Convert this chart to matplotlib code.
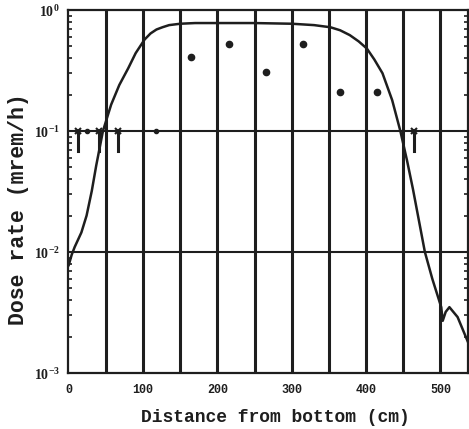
import matplotlib
matplotlib.use("Agg")
import matplotlib.pyplot as plt
from matplotlib.ticker import FixedLocator, FixedFormatter, LogLocator, NullFormatter

plt.rcParams['mathtext.fontset'] = 'custom'
plt.rcParams['mathtext.rm'] = 'Liberation Serif:bold'
plt.rcParams['mathtext.bf'] = 'Liberation Serif:bold'

# Calculated dose rate curve
curve_x = [0, 4, 8, 17, 24, 31, 37, 46, 57, 68, 80, 90, 102, 110, 118, 126, 135, 150, 170, 200,
           249, 300, 330, 352, 365, 378, 390, 401, 411, 422, 435, 446, 455, 463, 479, 489,
           501, 503, 507, 512, 523, 537]
curve_y = [0.0078, 0.0095, 0.011, 0.0145, 0.02, 0.032, 0.052, 0.1, 0.165, 0.24, 0.33, 0.44, 0.57, 0.64, 0.69, 0.72, 0.75, 0.77, 0.78, 0.78,
           0.78, 0.77, 0.75, 0.72, 0.68, 0.62, 0.55, 0.48, 0.39, 0.30, 0.18, 0.1, 0.057, 0.033, 0.01, 0.006,
           0.0035, 0.0027, 0.0032, 0.0035, 0.0029, 0.0018]

# Measured points
meas_x = [165, 215, 265, 315, 365, 415]
meas_y = [0.41, 0.52, 0.31, 0.52, 0.21, 0.21]

# Small measured points near detection level
small_x = [25, 118]
small_y = [0.1, 0.1]

# Upper-limit (x) points with downward bars
lim_x = [12, 41, 66, 465]
lim_y = [0.1, 0.1, 0.1, 0.1]
lim_low = [0.068, 0.068, 0.068, 0.068]

# Reference lines
vlines_x = [50, 100, 150, 200, 250, 300, 350, 400, 450, 500]
hlines_y = [0.1, 0.01]

xticks = [0, 100, 200, 300, 400, 500]
yticks = [1e-3, 1e-2, 1e-1, 1e0]
ytick_labels = [r'$10^{-3}$', r'$10^{-2}$', r'$10^{-1}$', r'$10^{0}$']

fig = plt.figure(figsize=(4.69, 4.29), dpi=100)
ax = fig.add_axes([68/469, 1-373/429, (468-68)/469, (373-10)/429])
ink = '#1e1e1e'

ax.set_yscale('log')
ax.set_xlim(-1, 537)
ax.set_ylim(1e-3, 1e0)

for xv in vlines_x:
    ax.axvline(xv, color=ink, lw=2.2, zorder=1)
for yv in hlines_y:
    ax.axhline(yv, color=ink, lw=1.5, zorder=1)

ax.plot(curve_x, curve_y, color=ink, lw=1.8, zorder=3, solid_joinstyle='round')
ax.plot(meas_x, meas_y, 'o', color=ink, ms=4.5, zorder=4)
ax.plot(small_x, small_y, 'o', color=ink, ms=3, zorder=4)
for xv, yv, lo in zip(lim_x, lim_y, lim_low):
    ax.plot([xv, xv], [yv, lo], color=ink, lw=2.2, zorder=4)
ax.plot(lim_x, lim_y, 'x', color=ink, ms=4, mew=1.5, zorder=4)

for s in ax.spines.values():
    s.set_color(ink)
    s.set_linewidth(1.6)

ax.xaxis.set_major_locator(FixedLocator(xticks))
ax.set_xticklabels([str(v) for v in xticks], fontfamily='Liberation Mono', fontweight='bold', fontsize=8.5)
ax.tick_params(axis='x', which='both', length=0, pad=8, colors=ink)

ax.yaxis.set_major_locator(FixedLocator(yticks))
ax.yaxis.set_major_formatter(FixedFormatter(ytick_labels))
ax.yaxis.set_minor_locator(LogLocator(base=10, subs=[2, 3, 4, 5, 6, 7, 8, 9]))
ax.yaxis.set_minor_formatter(NullFormatter())
ax.tick_params(axis='y', which='major', direction='in', length=5, width=1.4, right=True, labelsize=10, pad=6, colors=ink)
ax.tick_params(axis='y', which='minor', direction='in', length=3, width=1.2, right=True, colors=ink)

fig.text(275/469, 1-417/429, 'Distance from bottom (cm)', fontfamily='Liberation Mono', fontweight='bold',
         fontsize=13, color=ink, ha='center', va='center')
fig.text(19/469, 1-209/429, 'Dose rate (mrem/h)', fontfamily='Liberation Mono', fontweight='bold',
         fontsize=15.5, color=ink, ha='center', va='center', rotation=90)

fig.savefig('out.png', dpi=100)
